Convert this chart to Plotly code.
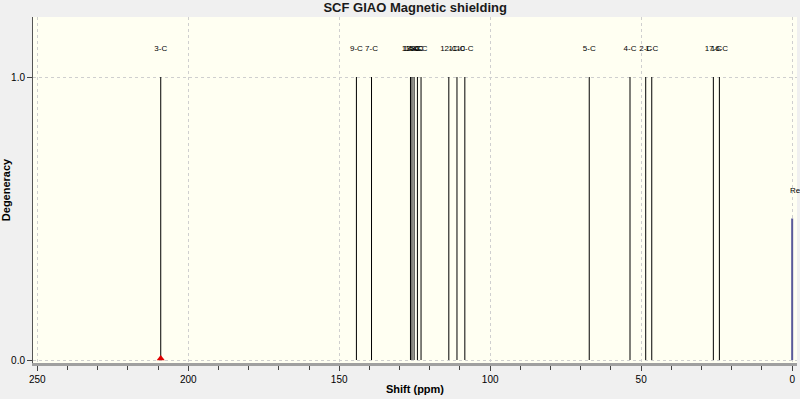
import plotly.graph_objects as go

# Peak data (chemical shift in ppm, degeneracy, label)
shifts = [209.1, 144.3, 139.3, 126.4, 125.9, 125.2, 124.1, 122.9,
          113.7, 111.0, 108.4, 67.2, 53.7, 48.5, 46.5, 26.1, 24.1]
degeneracy = [1.0] * len(shifts)
labels = ["3-C", "9-C", "7-C", "13-C", "14-C", "15-C", "8-C", "6-C",
          "12-C", "11-C", "10-C", "5-C", "4-C", "2-C", "1-C", "17-C", "16-C"]
ref_shift = [0.0]
ref_height = [0.5]
ref_label = ["Re"]
x_major = [250, 200, 150, 100, 50, 0]
x_minor = list(range(250, -1, -10))
y_ticks = [0.0, 1.0]

xs, ys = [], []
for s, d in zip(shifts, degeneracy):
    xs += [s, s, None]
    ys += [0, d, None]

fig = go.Figure()
fig.add_trace(go.Scatter(x=xs, y=ys, mode="lines",
                         line=dict(color="black", width=1), hoverinfo="skip"))
rx, ry = [], []
for s, h in zip(ref_shift, ref_height):
    rx += [s, s, None]
    ry += [0, h, None]
fig.add_trace(go.Scatter(x=rx, y=ry, mode="lines",
                         line=dict(color="#5a5a9a", width=2), hoverinfo="skip"))
fig.add_trace(go.Scatter(x=shifts, y=[1.10] * len(shifts), mode="text",
                         text=labels, textfont=dict(family="Liberation Sans", size=8, color="black"),
                         hoverinfo="skip"))
fig.add_trace(go.Scatter(x=[shifts[0]], y=[0.005], mode="markers",
                         marker=dict(symbol="triangle-up", color="#e00000", size=7),
                         hoverinfo="skip"))

fig.add_annotation(x=ref_shift[0], y=0.60, text=ref_label[0], showarrow=False,
                   xanchor="center", xshift=3,
                   font=dict(family="Liberation Sans", size=8, color="black"))

fig.update_layout(
    width=800, height=399,
    margin=dict(l=33, r=3, t=17, b=36),
    paper_bgcolor="#f0f0f0",
    plot_bgcolor="#fffff2",
    showlegend=False,
    title=dict(text="<b>SCF GIAO Magnetic shielding</b>", x=0.519, xanchor="center",
               y=0.982, yanchor="middle",
               font=dict(family="Liberation Sans", size=13, color="#1a1a1a")),
    xaxis=dict(
        range=[251.4, -1.6], tickvals=x_major, ticktext=[str(v) for v in x_major],
        automargin=False,
        ticks="outside", ticklen=5, tickcolor="#444", tickwidth=1,
        minor=dict(tickvals=x_minor, ticks="outside", ticklen=4, tickcolor="#444", showgrid=False),
        showgrid=True, gridcolor="#cfcfcf", griddash="dot", gridwidth=1,
        showline=True, linecolor="#a0a0a0", linewidth=3, mirror=False,
        zeroline=False,
        tickfont=dict(family="Liberation Sans", size=10, color="black"),
        title=dict(text="<b>Shift (ppm)</b>", standoff=2,
                   font=dict(family="Liberation Sans", size=11, color="black")),
    ),
    yaxis=dict(
        range=[-0.0106, 1.212], tickvals=y_ticks, ticktext=["0.0", "1.0"],
        automargin=False,
        ticks="outside", ticklen=5, tickcolor="#444",
        showgrid=True, gridcolor="#cfcfcf", griddash="dot",
        showline=True, linecolor="#555", linewidth=1,
        zeroline=False,
        tickfont=dict(family="Liberation Sans", size=10, color="black"),
        title=dict(text="<b>Degeneracy</b>", standoff=4,
                   font=dict(family="Liberation Sans", size=11, color="black")),
    ),
)

fig.write_html("out.html")
